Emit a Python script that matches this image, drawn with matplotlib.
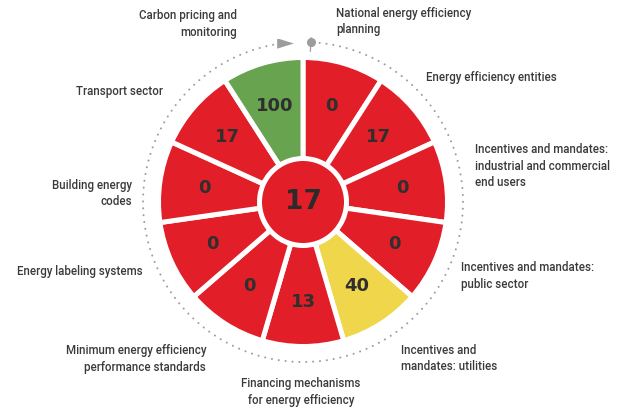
import matplotlib

matplotlib.use("Agg")
import matplotlib.pyplot as plt
import numpy as np

# clockwise from 12 o'clock
categories = [
    "National energy efficiency\nplanning",
    "Energy efficiency entities",
    "Incentives and mandates:\nindustrial and commercial\nend users",
    "Incentives and mandates:\npublic sector",
    "Incentives and\nmandates: utilities",
    "Financing mechanisms\nfor energy efficiency",
    "Minimum energy efficiency\nperformance standards",
    "Energy labeling systems",
    "Building energy\ncodes",
    "Transport sector",
    "Carbon pricing and\nmonitoring",
]
scores = [0, 17, 0, 0, 40, 13, 0, 0, 0, 17, 100]
overall = 17

RED = "#e21e28"
YELLOW = "#efd64b"
GREEN = "#68a350"
TEXT = "#3a3a3a"
DOTS = "#9c9c9c"


def score_color(v):
    if v >= 67:
        return GREEN
    if v >= 34:
        return YELLOW
    return RED


W, H = 626, 411
cx, cy = 303, 202  # wheel centre, pixels from top-left
R = 165

fig = plt.figure(figsize=(W / 100, H / 100), dpi=100)
bg = fig.add_axes([0, 0, 1, 1])
bg.set_xlim(0, W)
bg.set_ylim(H, 0)
bg.axis("off")

ax = fig.add_axes([(cx - R) / W, (H - cy - R) / H, 2 * R / W, 2 * R / H], projection="polar")
ax.set_theta_zero_location("N")
ax.set_theta_direction(-1)
ax.set_ylim(0, R)
ax.axis("off")
ax.patch.set_alpha(0)

n = len(scores)
step = 2 * np.pi / n
theta = np.arange(n) * step + step / 2
gap = 5.0 * 72 / 100  # white gap in points
inner, outer = 46, 142
ax.bar(
    theta,
    outer - inner + gap * 100 / 72,
    width=step,
    bottom=inner - gap * 100 / 72 / 2,
    color=[score_color(v) for v in scores],
    edgecolor="white",
    linewidth=gap,
    zorder=2,
)
ax.bar(0, 41, width=2 * np.pi, bottom=0, color=RED, edgecolor="none", zorder=3)
ax.text(0, 0, str(overall), ha="center", va="center", fontsize=19, fontweight="bold",
        color="#2b2b2b", family="DejaVu Sans", zorder=4)

for t, v in zip(theta, scores):
    ax.text(t, 100, str(v), ha="center", va="center", fontsize=13, fontweight="bold",
            color="#2f2f2f", family="DejaVu Sans", zorder=4)

# dotted ring with start marker and arrow
ring = np.linspace(np.deg2rad(3.5), np.deg2rad(352), 500)
ax.plot(ring, np.full_like(ring, 160), color=DOTS, linewidth=1.5,
        linestyle=(0, (0.01, 3.3)), dash_capstyle="round", zorder=1)
start = np.deg2rad(2.8)
ax.plot([start, start], [151, 169], color=DOTS, linewidth=0.9, zorder=1)
ax.plot(start, 160, marker="o", markersize=5.5, color=DOTS, zorder=2)
ax.plot(np.deg2rad(-6.3), 160, marker=[(-1, -0.62), (1, 0), (-1, 0.62)], markersize=12,
        color=DOTS, markeredgewidth=0, zorder=2)

# labels: (x, y, ha) in pixels
label_pos = [
    (336, 21.5, "left"),
    (426, 77, "left"),
    (475, 166, "left"),
    (461, 276, "left"),
    (401, 358.5, "left"),
    (301, 392, "center"),
    (206, 359, "right"),
    (143, 271, "right"),
    (132, 193.5, "right"),
    (163, 92, "right"),
    (237, 24, "right"),
]
for text, (x, y, ha) in zip(categories, label_pos):
    bg.text(x, y, text, ha=ha, va="center", fontsize=8.3, color=TEXT, family="Roboto",
            fontweight="medium", linespacing=1.35, multialignment=ha)

fig.savefig("out.png", dpi=100)
